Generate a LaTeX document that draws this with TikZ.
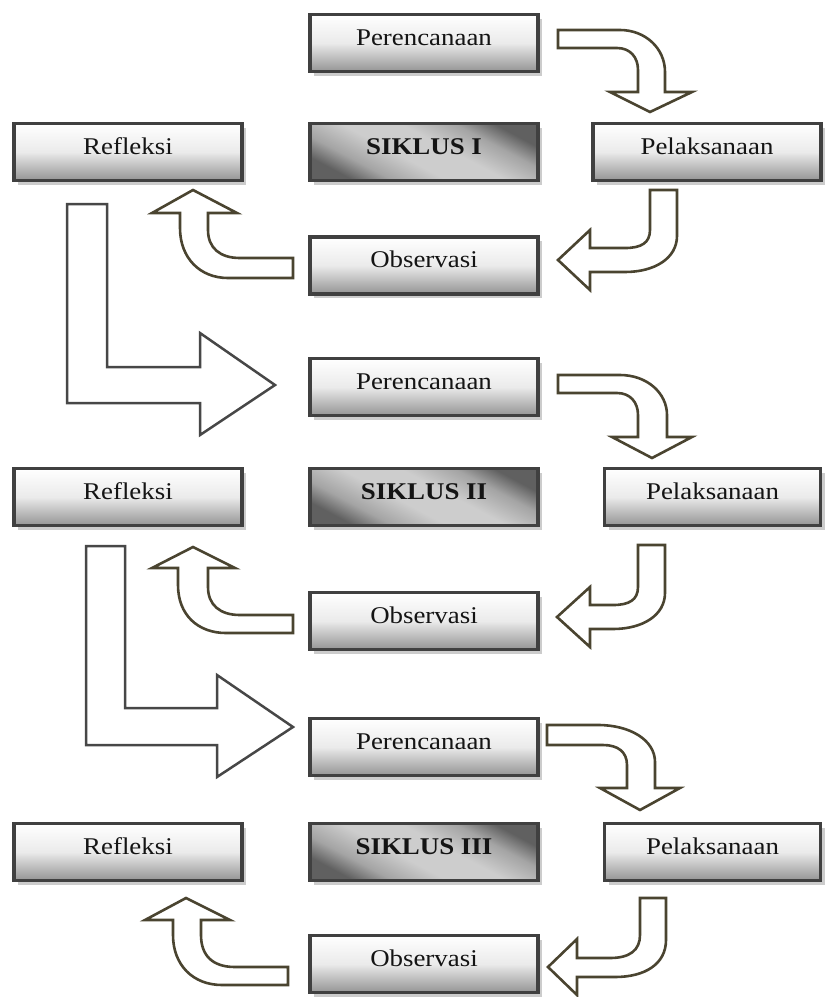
\documentclass[tikz,border=0pt]{standalone}
\usepackage{fontspec}
\setmainfont{Liberation Serif}[FakeStretch=1.12]
\usetikzlibrary{shadows}
\definecolor{boxline}{HTML}{404040}
\definecolor{arrline}{HTML}{4A4430}
\definecolor{lline}{HTML}{474747}
\definecolor{mdark}{HTML}{606060}
\definecolor{mmid}{HTML}{A4A4A4}
\definecolor{mlight}{HTML}{CDCDCD}
\pgfdeclarehorizontalshading{metalsh}{100bp}{color(0bp)=(mdark); color(25bp)=(mdark); color(33bp)=(mmid); color(44bp)=(mlight); color(56bp)=(mlight); color(67bp)=(mmid); color(75bp)=(mdark); color(100bp)=(mdark)}
\tikzset{
  box/.style={draw=boxline, line width=3.5pt, top color=white, bottom color=black!42, middle color=black!8,
    minimum width=228pt, minimum height=57pt, inner sep=0pt, text height=12pt, text depth=8pt,
    text=black!92, font=\fontsize{24pt}{28pt}\selectfont,
    general shadow={fill=black!20, shadow xshift=4pt, shadow yshift=-4pt}},
  narrowbox/.style={box, minimum width=216pt},
  cyclebox/.style={box, shading=metalsh, shading angle=62, font=\bfseries\fontsize{24pt}{28pt}\selectfont},
  barrow/.style={draw=arrline, line width=2.6pt, fill=white, line join=miter},
  larrow/.style={draw=lline, line width=2.5pt, fill=white, line join=miter}
}
\begin{document}
\begin{tikzpicture}[x=1pt, y=-1pt]
\fill[white] (0,0) rectangle (826,997);
\useasboundingbox (0,0) rectangle (826,997);

% ---------- Cycle I ----------
\node[box] (p1) at (424,43) {Perencanaan};
\node[box] (r1) at (128,152) {Refleksi};
\node[cyclebox] (s1) at (424,152) {SIKLUS I};
\node[box] (l1) at (707,152) {Pelaksanaan};
\node[box] (o1) at (424,265.5) {Observasi};

\draw[barrow] (558,30) -- (620,30) .. controls (645,30) and (665,48) .. (665,72) -- (665,92) -- (692,92) -- (650,112) -- (610,92) -- (638,92) -- (638,70) .. controls (638,57) and (630,48) .. (617,48) -- (558,48) -- cycle;
\draw[barrow] (650,190) -- (677,190) -- (677,236) .. controls (677,258) and (655,272) .. (625,272) -- (590,272) -- (590,290) -- (558,260) -- (590,230) -- (590,248) -- (625,248) .. controls (641,248) and (650,243) .. (650,230) -- cycle;
\draw[barrow] (293,258) -- (240,258) .. controls (220,258) and (208,248) .. (208,230) -- (208,213) -- (237,213) -- (193,190) -- (152,213) -- (180,213) -- (180,228) .. controls (180,258) and (200,278) .. (228,278) -- (293,278) -- cycle;

\draw[larrow] (67,204) -- (107,204) -- (107,367) -- (200,367) -- (200,333) -- (275,385) -- (200,435) -- (200,403) -- (67,403) -- cycle;

% ---------- Cycle II ----------
\node[box] (p2) at (424,387) {Perencanaan};
\node[box] (r2) at (128,497) {Refleksi};
\node[cyclebox] (s2) at (424,497) {SIKLUS II};
\node[narrowbox] (l2) at (712.5,497) {Pelaksanaan};
\node[box] (o2) at (424,621) {Observasi};

\draw[barrow] (558,375) -- (620,375) .. controls (647,375) and (667,393) .. (667,415) -- (667,437) -- (692,437) -- (652,458) -- (612,437) -- (638,437) -- (638,415) .. controls (638,402) and (630,393) .. (617,393) -- (558,393) -- cycle;
\draw[barrow] (638,545) -- (665,545) -- (665,593) .. controls (665,615) and (643,629) .. (613,629) -- (590,629) -- (590,647) -- (557,617) -- (590,587) -- (590,605) -- (613,605) .. controls (629,605) and (638,600) .. (638,587) -- cycle;
\draw[barrow] (293,615) -- (240,615) .. controls (220,615) and (208,605) .. (208,587) -- (208,568) -- (235,568) -- (193,547) -- (152,568) -- (178,568) -- (178,585) .. controls (178,615) and (198,633) .. (226,633) -- (293,633) -- cycle;

\draw[larrow] (86,546) -- (125,546) -- (125,708) -- (217,708) -- (217,675) -- (293,727) -- (217,777) -- (217,745) -- (86,745) -- cycle;

% ---------- Cycle III ----------
\node[box] (p3) at (424,747) {Perencanaan};
\node[box] (r3) at (128,852) {Refleksi};
\node[cyclebox] (s3) at (424,852) {SIKLUS III};
\node[narrowbox] (l3) at (712.5,852) {Pelaksanaan};
\node[box] (o3) at (424,964) {Observasi};

\draw[barrow] (547,725) -- (598,725) .. controls (630,725) and (655,740) .. (655,762) -- (655,788) -- (680,788) -- (640,810) -- (600,788) -- (627,788) -- (627,765) .. controls (627,752) and (618,745) .. (603,745) -- (547,745) -- cycle;
\draw[barrow] (640,898) -- (666,898) -- (666,940) .. controls (666,964) and (645,977) .. (615,977) -- (577,977) -- (577,995) -- (548,967) -- (577,939) -- (577,958) -- (610,958) .. controls (630,958) and (640,950) .. (640,935) -- cycle;
\draw[barrow] (288,967) -- (235,967) .. controls (212,967) and (201,955) .. (201,935) -- (201,920) -- (230,920) -- (186,898) -- (145,920) -- (173,920) -- (173,935) .. controls (173,965) and (193,985) .. (222,985) -- (288,985) -- cycle;
\end{tikzpicture}
\end{document}
